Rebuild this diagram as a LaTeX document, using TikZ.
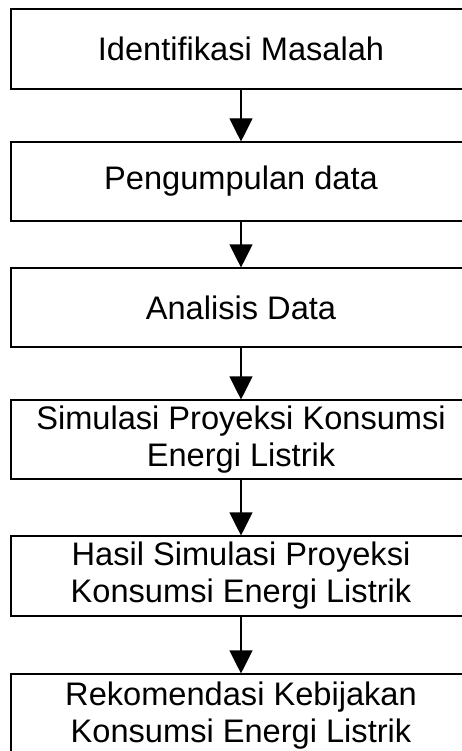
\documentclass[tikz,border=0pt]{standalone}
\usepackage{fontspec}
\setmainfont{Liberation Sans}
\usetikzlibrary{arrows.meta}
\begin{document}
\begin{tikzpicture}[x=1pt,y=1pt,
  box/.style={draw=black, line width=1.1pt, minimum width=460pt, inner sep=0pt,
    align=center, font=\fontsize{32.6}{37}\selectfont},
  flow/.style={draw=black, line width=1.1pt, -{Triangle[width=23pt,length=23pt]}}]
\useasboundingbox (0,0) rectangle (461,-751);
\node[box, minimum height=80pt] (b1) at (241,-49) {Identifikasi Masalah};
\node[box, minimum height=79pt] (b2) at (241,-181.5) {Pengumpulan data};
\node[box, minimum height=79pt] (b3) at (241,-307.5) {Analisis Data};
\node[box, minimum height=79pt] (b4) at (241,-439.5) {Simulasi Proyeksi Konsumsi\\Energi Listrik};
\node[box, minimum height=80pt] (b5) at (241,-576) {Hasil Simulasi Proyeksi\\Konsumsi Energi Listrik};
\node[box, minimum height=84pt] (b6) at (241,-716) {Rekomendasi Kebijakan\\Konsumsi Energi Listrik};
\draw[flow] (b1.south) -- (b2.north);
\draw[flow] (b2.south) -- (b3.north);
\draw[flow] (b3.south) -- (b4.north);
\draw[flow] (b4.south) -- (b5.north);
\draw[flow] (b5.south) -- (b6.north);
\end{tikzpicture}
\end{document}
